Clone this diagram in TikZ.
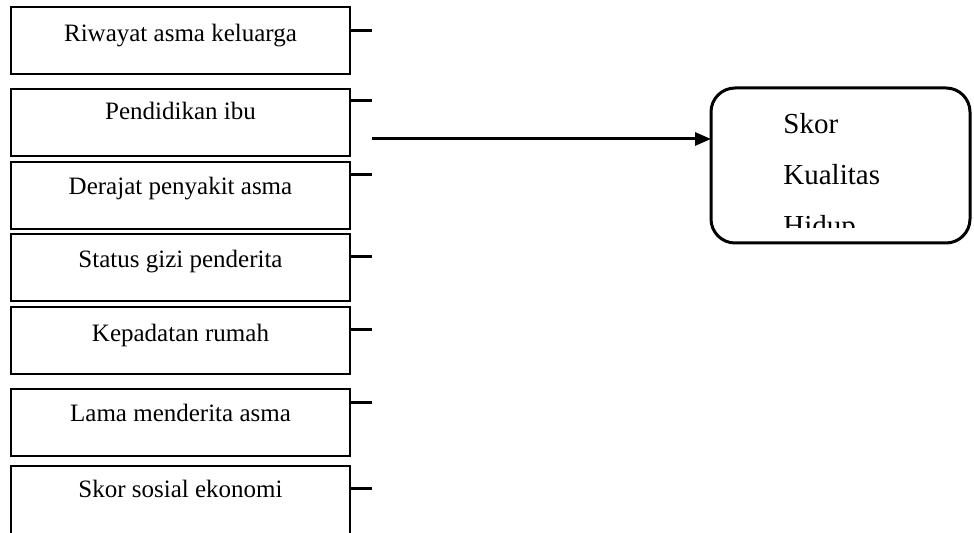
\documentclass[tikz,border=0pt]{standalone}
\usepackage{fontspec}
\setmainfont{Liberation Serif}
\usetikzlibrary{calc,arrows.meta}
\begin{document}
\begin{tikzpicture}[x=0.5pt,y=-0.5pt,
  fbox/.style={draw=black, line width=0.6pt, minimum width=169.5pt, minimum height=33.5pt, anchor=north west, inner sep=0pt, outer sep=0pt},
  lbl/.style={anchor=base, inner sep=0pt, font=\fontsize{12.5}{15}\selectfont},
  tick/.style={line width=1.5pt},
  rbox/.style={draw=black, line width=1.5pt, rounded corners=12pt, minimum width=129.5pt, minimum height=77.5pt, anchor=north west, inner sep=0pt, outer sep=0pt},
  olbl/.style={anchor=base west, inner sep=0pt, font=\fontsize{14.5}{17}\selectfont},
  arrow/.style={line width=1.5pt, -{Triangle[length=8pt,width=6.5pt]}}]
\useasboundingbox (0,0) rectangle (974,533);
\clip (0,0) rectangle (974,533);
% boxes
\node[fbox] (b1) at (11,7) {};
\node[fbox] (b2) at (11,89) {};
\node[fbox] (b3) at (11,162) {};
\node[fbox] (b4) at (11,234) {};
\node[fbox] (b5) at (11,307) {};
\node[fbox] (b6) at (11,389) {};
\node[fbox, minimum height=45pt] (b7) at (11,466) {};
% labels
\node[lbl] at ($(b1.north)+(0,35)$) {Riwayat asma keluarga};
\node[lbl] at ($(b2.north)+(0,31)$) {Pendidikan ibu};
\node[lbl] at ($(b3.north)+(0,33)$) {Derajat penyakit asma};
\node[lbl] at ($(b4.north)+(0,34)$) {Status gizi penderita};
\node[lbl] at ($(b5.north)+(0,35)$) {Kepadatan rumah};
\node[lbl] at ($(b6.north)+(0,33)$) {Lama menderita asma};
\node[lbl] at ($(b7.north)+(0,32)$) {Skor sosial ekonomi};
% ticks
\draw[tick] ($(b1.north east)+(0,24)$) -- ++(22,0);
\draw[tick] ($(b2.north east)+(0,12)$) -- ++(22,0);
\draw[tick] ($(b3.north east)+(0,13)$) -- ++(22,0);
\draw[tick] ($(b4.north east)+(0,23)$) -- ++(22,0);
\draw[tick] ($(b5.north east)+(0,23)$) -- ++(22,0);
\draw[tick] ($(b6.north east)+(0,14)$) -- ++(22,0);
\draw[tick] ($(b7.north east)+(0,23)$) -- ++(22,0);
% outcome box
\node[rbox] (out) at (711,88) {};
\begin{scope}
\clip (711,88) rectangle (971,228);
\node[olbl] at (783,134) {Skor};
\node[olbl] at (783,185) {Kualitas};
\node[olbl] at (783,236) {Hidup};
\end{scope}
% arrow
\coordinate (a0) at (372,139);
\draw[arrow] (a0) -- (a0 -| out.west);
\end{tikzpicture}
\end{document}
